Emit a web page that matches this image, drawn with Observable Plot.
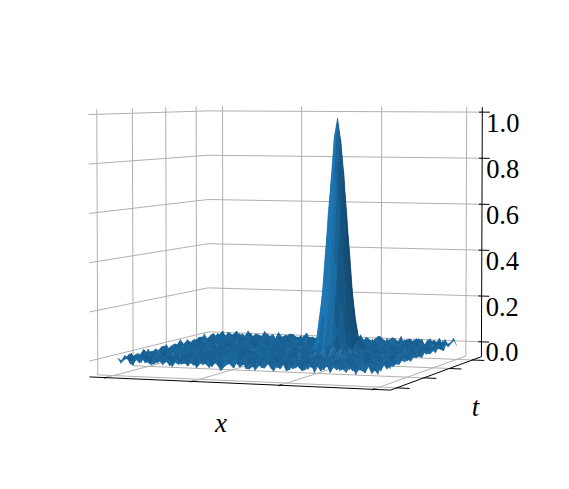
<!DOCTYPE html><html><head><meta charset="utf-8">
<style>html,body{margin:0;padding:0;background:#fff}svg{display:block}</style>
<script src="https://cdn.jsdelivr.net/npm/d3@7"></script>
<script src="https://cdn.jsdelivr.net/npm/@observablehq/plot@0.6"></script>
</head><body>
<div id="chart"></div>
<script>
const xTicks=[.055,.35,.642,.945];
const tTicks=[.06,.34,.62,.89];
const zTicks=[0,.2,.4,.6,.8,1];
const zLabels=["0.0","0.2","0.4","0.6","0.8","1.0"];
const zRange=[-.065,1.02];
const xSpan=[.07,.93];
const tSpan=[.06,.94];
const noiseUnit=1/150;
const slopeDamp=5;
// surface noise, one row per t step
const noise=[
[1,-2,0,2,-1,-3,1,0,2,-1,1,-2, 3,-1,0,-2,1,2,-3,0,1,-1,2,-2, 0,1,-3,2,-1,0,3,-2,1,-1,-4,1, 2,0,-2,1,-1,3,-2,0,1,-3,2,-1, 0,2,-1,-3,1,0,2,-2,1,-1,3,0, -2,1,-1,2,-3,1,0,-1,2,-2,1,3, -1,0,-2,1,2,-3,0,1,-1,2,-2,0],
[-1,2,1,-3,0,1,-2,2,0,-1,3,-2, 0,1,-1,2,-3,1,0,-2,3,-1,1,0, -2,2,-1,0,1,-3,2,0,-1,1,-2,3, 0,-1,2,-2,1,0,-3,1,2,-1,0,-2, 3,-1,1,0,-2,2,-3,1,0,-1,2,1, -2,0,3,-1,1,-2,0,2,-3,1,-1,0, 2,-2,1,0,-1,3,-1,-2,2,0,1,-3],
[0,-1,3,-2,1,-1,0,2,-3,1,0,2, -1,-2,1,3,-1,0,-2,2,0,-3,1,2, -1,0,3,-2,1,-1,0,-2,2,1,-1,0, -3,2,1,-1,0,2,-2,1,-1,3,-2,0, 1,-1,-2,2,0,1,-3,2,-1,0,1,-2, 2,-1,0,1,-3,2,0,-1,1,-2,3,0, -1,1,-2,2,-1,0,-3,2,1,-1,0,2],
[2,0,-2,1,-3,2,1,-1,0,-2,1,-1, 2,0,-3,1,2,-1,1,0,-2,2,-1,-3, 1,0,-1,2,-2,1,3,-1,0,-2,1,-1, 2,-2,0,1,-1,-3,2,0,1,-2,1,-1, 2,0,-3,1,-1,2,0,-1,1,-2,3,-1, 0,-2,1,-1,2,0,-2,1,3,-1,-2,0, 1,2,-3,0,1,-1,2,-2,0,1,-1,3],
[-2,1,-1,0,2,-1,-2,3,-1,1,0,-3, 1,-1,2,0,-2,1,-1,3,-2,0,1,-1, 2,-2,0,1,-1,2,-3,0,1,2,-1,-2, 0,1,3,-2,1,0,-1,2,-1,0,-2,1, 3,-2,0,1,-1,-2,2,1,-3,0,2,-1, 1,0,-2,3,-1,0,1,-2,-1,2,0,-3, 1,-1,0,2,-2,1,-1,0,2,-3,1,0],
[1,-1,2,-3,0,1,0,-1,2,-2,1,3, -2,0,1,-1,0,2,-2,1,-3,2,0,-1, 1,-1,3,-2,0,-1,1,2,-2,0,1,-3, 1,-1,0,-2,3,-1,0,1,-2,2,-1,0, -1,1,2,-3,0,2,-1,1,-2,0,-1,3, -2,1,0,-1,2,-2,1,0,-3,1,2,-1, 0,-2,3,-1,1,0,-2,1,-1,2,0,-2],
[0,3,-2,1,-1,0,-2,1,2,-3,0,-1, 1,2,-1,-2,3,0,-1,1,0,-2,2,-1, -3,1,0,2,-1,1,-2,0,3,-1,0,-2, 1,2,-1,0,-3,1,2,-1,0,1,-2,3, -1,0,-2,1,1,-1,2,-3,0,1,2,-2, 0,-1,1,2,-3,0,-1,2,1,-2,0,1, -1,3,-2,0,1,-1,2,-2,0,-3,1,2],
[-1,0,1,-2,2,-1,3,-2,0,1,-1,-2, 2,0,-3,1,-1,2,0,-2,1,-1,3,0, -2,1,-1,0,2,-3,1,-1,2,0,-2,1, -1,0,2,-2,1,-1,0,3,-2,1,-3,0, 2,-1,1,0,-2,2,-1,0,-2,3,-1,1, 0,-2,2,-1,0,1,-3,1,2,-1,0,-2, 1,-1,0,2,-3,1,0,-1,2,-1,-2,1],
[2,-2,1,0,-3,1,-1,0,2,-1,-2,3, 0,-1,1,-2,2,0,-3,1,2,-1,0,-2, 1,3,-2,0,-1,1,-1,2,-2,0,1,-3, 2,-1,0,1,-2,3,-1,0,-2,1,2,-1, 0,-3,2,-1,1,0,-2,1,-1,2,0,-3, 1,2,-1,0,-2,1,-1,3,-2,0,1,-1, 2,-2,-1,0,1,3,-2,-1,0,2,-1,1],
[-3,1,0,-1,2,1,-2,1,-1,0,3,-2, 1,0,-2,1,-1,3,-1,0,-2,2,1,-3, 0,-1,1,-2,2,0,-1,3,-2,1,-1,0, -2,2,1,-3,0,-1,2,-2,1,0,-1,2, -3,1,0,2,-2,1,-1,0,3,-2,1,-1, 0,2,-3,1,-1,0,2,-2,1,-1,0,3, -2,1,0,-1,2,-3,1,2,-1,0,-2,1],
[1,0,-1,3,-2,0,2,-3,1,-1,0,2, -1,-2,1,0,3,-2,1,-1,0,-1,2,0, -2,1,-1,2,-3,0,1,-1,0,2,-2,1, 3,-1,-2,0,1,2,-1,0,-3,1,-1,2, 0,-1,-2,1,3,-1,0,-2,1,2,-3,0, 1,-1,0,-2,2,1,-1,-2,3,0,-1,1, -3,2,0,1,-2,0,-1,3,-2,1,0,-1],
[-1,2,-2,0,1,-1,-2,2,0,3,-1,-2, 0,1,-3,2,-1,0,1,-2,3,-1,0,1, -1,-2,2,0,1,-1,3,-2,0,-1,1,2, -2,0,-1,3,-2,1,0,-1,2,-2,1,0, -1,3,-2,0,1,-1,2,-3,1,0,-1,2, -2,0,1,3,-1,-2,1,0,-1,2,-3,1, 0,-1,2,-2,1,0,3,-1,-2,1,-1,0],
[0,1,-3,2,-1,0,1,-1,-2,1,2,-1, 3,-2,0,-1,1,-2,2,0,-3,1,-1,2, 0,1,-2,-1,3,-2,1,0,-1,2,-3,0, 1,-1,2,0,-2,1,-1,-3,2,0,1,-1, 2,-2,0,1,-1,0,3,-2,1,-1,2,0, -3,1,-1,0,2,-2,0,1,-1,3,-2,0, 1,-2,-1,2,0,-3,1,0,2,-1,1,-2],
[2,-1,0,-2,1,3,-2,0,1,-1,-3,1, 0,2,-1,1,-2,0,-1,3,-1,0,-2,1, 2,-1,0,-3,1,2,-2,1,0,-1,2,-1, -2,1,0,3,-1,0,-2,1,-1,2,0,-2, 1,-1,2,-3,0,1,-2,2,-1,0,1,-2, 3,-1,0,1,-2,-1,2,0,-3,1,0,2, -1,1,-2,0,3,-1,0,-2,1,1,-2,0],
[-2,1,2,-1,0,-3,1,-1,3,0,-2,1, -1,0,2,-2,1,-1,0,-3,2,1,-1,0, -2,3,-1,0,1,-2,-1,2,1,-3,0,1, -1,2,-2,0,1,-1,3,-2,0,1,-1,-2, 2,0,1,-3,1,0,-1,2,-2,1,0,-1, 1,2,-3,0,-1,1,-2,2,0,1,-1,-2, 3,0,-1,1,-2,2,-1,0,-3,1,2,-1],
[1,-1,0,2,-2,1,0,2,-1,-2,1,0, -3,2,1,-1,0,-2,3,-1,1,0,-2,1, -1,-2,0,2,-1,1,3,-2,0,-1,1,-2, 2,0,-3,1,-1,0,2,-1,1,-2,3,-1, 0,1,-1,-2,2,0,-3,1,2,-1,0,1, -2,1,-1,2,0,-2,1,-1,3,-3,0,1, 2,-1,0,-2,1,-1,2,0,-2,3,-1,0],
[0,-2,1,-1,3,-2,-1,1,0,2,-3,1, 2,-1,0,-2,1,0,2,-3,0,1,-1,2, 1,-2,0,-1,3,-1,0,-2,2,1,-1,0, -2,1,2,-1,-3,2,0,-1,1,0,-2,2, -1,1,0,3,-2,-1,1,0,-2,2,-1,1, 0,-3,2,1,-1,0,-2,1,2,-1,0,-2, 1,3,-2,0,-1,1,-3,2,0,1,-1,-2],
[3,0,-1,-2,1,0,2,-2,-1,1,0,-2, 1,-1,3,0,-2,1,-1,0,2,-2,1,-3, 0,2,-1,1,-2,0,1,-1,-3,2,0,1, -1,0,-2,3,1,-1,0,-2,2,-1,1,0, -3,2,-1,0,1,-2,3,-1,0,1,-2,2, -1,0,1,-2,3,-1,-2,0,1,-1,2,0, -2,1,-1,2,0,-3,1,-1,0,2,-2,1],
[-1,1,-3,2,0,-1,1,-2,3,0,-1,1, -2,0,1,-1,-2,3,0,-1,2,0,-2,1, -1,3,-2,0,1,-1,2,0,-2,1,-3,2, 0,-1,1,-2,0,2,-1,1,-3,0,2,-1, 1,0,-2,1,-1,3,-2,0,1,-1,-2,2, 0,1,-3,2,-1,0,1,-1,-2,3,0,-1, 1,-2,2,-1,0,1,-3,0,2,-1,1,0],
[2,-2,0,1,-1,2,-3,0,1,-1,2,-2, 0,3,-1,1,-2,0,-1,1,-3,2,0,-1, 1,0,-2,2,-1,-3,1,0,2,-1,0,-2, 3,-1,1,0,-2,-1,2,0,1,-2,-1,3, 0,-2,1,-1,2,0,-1,-2,3,1,-1,0, -2,2,0,-1,1,-3,2,1,-1,0,-2,1, 2,0,-1,-2,3,-1,1,0,-2,1,-1,2],
[-2,0,1,3,-2,-1,1,0,-2,2,-1,0, 1,-3,2,-1,0,2,-2,1,0,-1,3,-2, 0,-1,1,2,-3,0,1,-2,-1,3,-2,1, 0,-1,2,-2,0,1,3,-1,-2,0,1,-1, -3,2,0,1,-1,-2,0,2,-1,1,-2,3, -1,0,1,-2,-1,2,0,3,-2,1,-1,0, -2,1,0,-3,2,-1,0,1,-1,2,-2,0],
[1,-1,2,-2,0,1,-3,2,-1,0,1,3, -2,0,-1,1,2,-2,0,-1,1,-3,0,2, -1,1,-2,0,3,-1,0,1,-2,0,2,-1, -2,1,0,-1,3,-2,-1,1,0,2,-3,1, 0,-1,2,-2,3,-1,1,0,-3,1,0,-1, 2,-2,1,0,-1,-2,3,0,-1,2,-2,1, -1,0,3,-2,1,-1,0,2,-3,1,0,-2],
[0,2,-1,-3,1,2,-1,0,-2,1,-1,0, 2,-2,1,3,-1,-2,0,1,-1,2,-2,1, 0,-3,1,-1,0,2,-2,3,-1,1,0,-1, 2,-3,0,1,-1,-2,2,1,-1,0,3,-2, 1,0,-1,-2,1,2,0,-3,1,-1,2,0, -2,1,-1,3,0,-2,1,-1,0,-3,2,1, 0,-1,-2,2,0,1,-1,-2,3,0,-1,1],
[-1,1,0,-2,3,-1,0,-2,2,0,-3,1, -1,0,-2,2,0,-1,3,-2,1,-1,0,-2, 2,1,-1,0,-3,1,-1,2,0,-2,1,3, -1,0,-2,1,2,-1,0,-3,1,-1,2,0, -2,1,3,-1,0,-2,1,-1,2,-2,0,1, -1,3,-2,0,1,2,-3,-1,0,1,-2,2, -1,0,1,3,-2,0,-1,1,-2,2,0,-1],
[3,-2,1,-1,0,-2,2,1,-1,0,2,-2, 1,-1,0,-3,1,2,-1,0,-2,1,3,-1, 0,-2,1,0,-1,2,-3,0,1,-1,2,-2, 0,1,-1,-2,0,3,-1,1,-2,0,1,-1, 2,-3,0,1,-1,2,-2,1,0,-1,-3,2, 0,-1,1,-2,2,0,-1,1,-3,0,3,-1, 1,-2,0,-1,2,0,-3,1,-1,2,1,-2],
[-1,0,-2,1,2,-1,0,-3,1,-1,3,0, -2,1,2,-1,-2,0,1,-1,0,2,-3,1, -1,0,2,-2,1,-1,0,3,-2,1,-1,0, -2,2,1,-1,3,-2,0,-1,1,-2,2,0, 1,-1,-2,3,0,-1,1,-2,1,0,2,-1, -2,1,-3,2,0,-1,2,-2,1,0,-1,-2, 3,-1,0,1,-2,-1,2,0,1,-1,-3,2],
[1,2,-1,0,-3,1,-1,2,0,-2,1,-1, 0,3,-2,1,0,-1,-2,2,1,-1,0,-2, 3,-1,-2,1,0,-1,2,-1,-3,0,1,2, -1,0,-2,1,-1,0,2,-2,1,3,-1,0, -2,1,0,-1,2,-3,1,0,-1,2,-2,1, 0,-1,3,-2,0,1,-1,-2,2,1,-3,0, -1,2,-1,0,-2,1,3,-2,0,-1,1,0],
[-2,-1,1,3,-1,0,-2,1,-1,2,0,-3, 1,-1,0,2,-2,1,-3,0,1,2,-1,0, -2,1,-1,3,-2,0,1,-1,2,0,-2,1, -1,0,3,-1,-2,1,0,-3,2,-1,0,1, -1,2,-2,0,3,-1,-2,1,0,-1,2,-2, 1,0,-1,2,-3,1,0,-1,2,-2,1,3, -1,0,-2,2,-1,1,0,-3,2,0,-1,1],
[1,0,-2,-1,2,-2,1,3,-1,0,-2,1, 2,-1,-3,1,0,-1,2,-1,0,-2,3,-1, 1,0,-2,2,-1,0,-3,1,2,-2,1,0, -1,2,-3,0,1,-1,2,0,-2,1,-1,3, 0,-2,1,-1,0,2,-1,-2,1,3,-2,0, -1,1,2,-2,0,-1,1,-3,2,0,-1,1, 2,-2,-1,1,0,-2,3,-1,0,-2,1,2],
[-1,2,-3,1,0,-1,2,-2,1,-1,3,0, -2,1,-1,-2,3,0,-1,1,-2,2,0,-1, 1,-3,2,0,-1,1,-2,3,-1,0,-2,1, 2,-1,0,-2,1,3,-2,0,-1,2,-2,1, 0,-1,3,-2,1,0,-3,1,-1,2,0,-1, -2,2,1,-1,3,-2,0,1,-1,-2,2,0, -3,1,2,-1,0,1,-2,2,-1,0,3,-2]
];
// the peak, added to the surface around one grid node
const peakRow=15, peakCol=56;
const peakRows=[-4,-3,-2,-1,0,1,2,3,4];
const peakCols=[-7,-6,-5,-4,-3,-2,-1,0,1,2,3,4,5,6,7];
const peakValues=[
[0,0,.01,.02,.03,.04,.05,.05,.05,.04,.03,.02,.01,0,0],
[0,.01,.03,.05,.09,.14,.16,.17,.16,.14,.09,.05,.03,.01,0],
[0,.02,.06,.14,.23,.34,.41,.43,.41,.34,.23,.14,.06,.02,0],
[.01,.04,.11,.23,.41,.59,.70,.75,.70,.59,.41,.23,.11,.04,.01],
[.01,.05,.14,.30,.52,.76,.90,.965,.90,.76,.52,.30,.14,.05,.01],
[.01,.04,.11,.23,.41,.59,.70,.75,.70,.59,.41,.23,.11,.04,.01],
[0,.02,.06,.14,.23,.34,.41,.43,.41,.34,.23,.14,.06,.02,0],
[0,.01,.03,.05,.09,.14,.16,.17,.16,.14,.09,.05,.03,.01,0],
[0,0,.01,.02,.03,.04,.05,.05,.05,.04,.03,.02,.01,0,0]
];
// camera read from the box corners
const elev=3.135, azim=-69.855;
const boxSide=1.1905, boxHeight=.893, dist=10;
const pxCx=292.064, pxCy=237.309, pxSx=256.606, pxSy=289.258;
const W=569, H=489;
const rad=Math.PI/180;
const wv=[Math.cos(elev*rad)*Math.cos(azim*rad),Math.cos(elev*rad)*Math.sin(azim*rad),Math.sin(elev*rad)];
const uv=[-Math.sin(azim*rad),Math.cos(azim*rad),0];
const vv=[wv[1]*uv[2]-wv[2]*uv[1],wv[2]*uv[0]-wv[0]*uv[2],wv[0]*uv[1]-wv[1]*uv[0]];
const dot=(a,b)=>a[0]*b[0]+a[1]*b[1]+a[2]*b[2];
function project(x,t,z){
  const w=(z-zRange[0])/(zRange[1]-zRange[0]);
  const q=[(x-.5)*boxSide,(t-.5)*boxSide,(w-.5)*boxHeight];
  const s=dist/(dist-dot(wv,q));
  return {px:dot(uv,q)*s,py:dot(vv,q)*s,depth:dot(wv,q)};
}
const nR=noise.length,nC=d3.min(noise,r=>r.length);
const gx=c=>xSpan[0]+(xSpan[1]-xSpan[0])*c/(nC-1);
const gt=r=>tSpan[0]+(tSpan[1]-tSpan[0])*r/(nR-1);
const gz=noise.map(row=>row.map(v=>v*noiseUnit));
peakRows.forEach((dr,i)=>peakCols.forEach((dc,j)=>{gz[peakRow+dr][peakCol+dc]+=peakValues[i][j];}));
const light=[-.667,-.667,.333];
const base=[31,119,180];
const faces=[];
for(let r=0;r<nR-1;r++)for(let c=0;c<nC-1;c++){
  const vs=[[c,r],[c+1,r],[c+1,r+1],[c,r+1]].map(([a,b])=>[gx(a),gt(b),gz[b][a]]);
  const d1=[(vs[2][0]-vs[0][0])*slopeDamp,(vs[2][1]-vs[0][1])*slopeDamp,vs[2][2]-vs[0][2]];
  const d2=[(vs[3][0]-vs[1][0])*slopeDamp,(vs[3][1]-vs[1][1])*slopeDamp,vs[3][2]-vs[1][2]];
  const n=[d1[1]*d2[2]-d1[2]*d2[1],d1[2]*d2[0]-d1[0]*d2[2],d1[0]*d2[1]-d1[1]*d2[0]];
  const s=dot(n,light)/Math.hypot(...n);
  const f=Math.min(1,.53+.5*(s+1)/2);
  const color=`rgb(${base.map(b=>Math.round(b*f)).join(",")})`;
  const pts=vs.map(v=>project(...v));
  faces.push({pts,color,depth:d3.mean(pts,p=>p.depth)});
}
faces.sort((a,b)=>a.depth-b.depth);
const facePoints=[];
faces.forEach((f,i)=>[...f.pts,f.pts[0]].forEach(p=>facePoints.push({id:i,px:p.px,py:p.py,color:f.color})));

const segs=(list)=>list.flatMap((pts,i)=>pts.map(p=>{const q=project(...p);return {id:i,px:q.px,py:q.py};}));
const zf=zRange[0], zt=zRange[1];
const grid=segs([
  ...zTicks.map(z=>[[0,0,z],[0,1,z],[1,1,z]]),
  ...xTicks.map(x=>[[x,0,zf],[x,1,zf],[x,1,zt]]),
  ...tTicks.map(t=>[[1,t,zf],[0,t,zf],[0,t,zt]])
]);
const axes=segs([[[0,0,zf],[1,0,zf],[1,1,zf],[1,1,zt]]]);
const ticks=segs([
  ...xTicks.map(x=>[[x,-.012,zf],[x,.012,zf]]),
  ...tTicks.map(t=>[[1,t,zf],[1.04,t,zf]]),
  ...zTicks.map(z=>[[.99,1,z],[1.025,1,z]])
]);
const zText=zTicks.map((z,i)=>{const q=project(1,1,z);return {px:q.px,py:q.py,label:zLabels[i]};});
const xLab=project(.5,0,zf), tLab=project(1,.5,zf);
const serif="'Liberation Serif','DejaVu Serif',serif";
const chart=Plot.plot({
  width:W,height:H,margin:0,
  style:{background:"#fff",overflow:"visible"},
  x:{axis:null,domain:[(0-pxCx)/pxSx,(W-pxCx)/pxSx],range:[0,W]},
  y:{axis:null,domain:[(pxCy-H)/pxSy,pxCy/pxSy],range:[H,0]},
  color:{type:"identity"},
  marks:[
    Plot.line(grid,{x:"px",y:"py",z:"id",stroke:"#b0b0b0",strokeWidth:1}),
    Plot.line(axes,{x:"px",y:"py",z:"id",stroke:"#000",strokeWidth:1}),
    Plot.line(ticks,{x:"px",y:"py",z:"id",stroke:"#000",strokeWidth:1}),
    Plot.line(facePoints,{x:"px",y:"py",z:"id",fill:"color",stroke:"color",strokeWidth:.3}),
    Plot.text(zText,{x:"px",y:"py",text:"label",textAnchor:"start",dx:4,dy:11,fontSize:26.5,fontFamily:serif,fill:"#000"}),
    Plot.text([xLab],{x:"px",y:"py",text:()=>"x",dx:-16,dy:40,fontSize:27,fontStyle:"italic",fontFamily:serif,fill:"#000"}),
    Plot.text([tLab],{x:"px",y:"py",text:()=>"t",dx:37,dy:35,fontSize:27,fontStyle:"italic",fontFamily:serif,fill:"#000"})
  ]
});
document.getElementById("chart").append(chart);
</script></body></html>
